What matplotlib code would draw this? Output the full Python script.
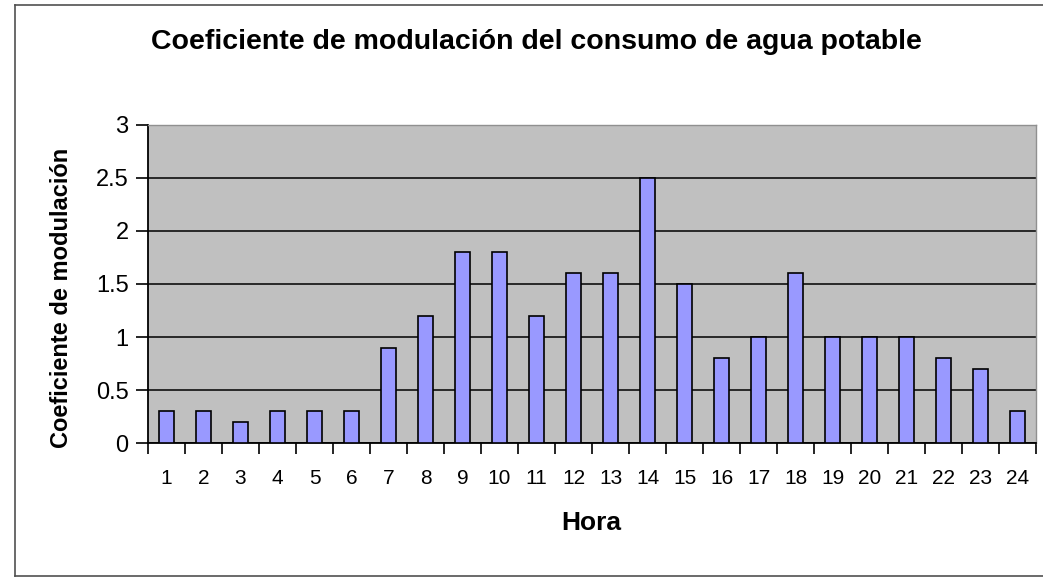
import numpy as np
import matplotlib.pyplot as plt
from matplotlib.lines import Line2D

plt.rcParams['font.family'] = ['Liberation Sans', 'DejaVu Sans']

horas = [str(h) for h in range(1, 25)]
coeficiente = [0.3, 0.3, 0.2, 0.3, 0.3, 0.3, 0.9, 1.2, 1.8, 1.8, 1.2, 1.6,
               1.6, 2.5, 1.5, 0.8, 1.0, 1.6, 1.0, 1.0, 1.0, 0.8, 0.7, 0.3]
y_ticks = [0, 0.5, 1, 1.5, 2, 2.5, 3]
y_labels = ['0', '0.5', '1', '1.5', '2', '2.5', '3']

fig = plt.figure(figsize=(10.43, 5.77), dpi=100)
ax = fig.add_axes([0.1419, 0.2322, 0.8514, 0.5512])
ax.set_facecolor('#C0C0C0')

x = np.arange(len(horas))
ax.bar(x, coeficiente, width=0.43, color='#9999FF', edgecolor='black',
       linewidth=1.2, zorder=3)

ax.set_xlim(-0.5, len(horas) - 0.5)
ax.set_ylim(0, 3)
ax.set_yticks(y_ticks)
ax.set_yticklabels(y_labels, fontsize=17)
ax.yaxis.grid(True, color='black', linewidth=1.1, zorder=1)
ax.set_axisbelow(True)

# ticks at category boundaries, labels at centres
ax.set_xticks(np.arange(len(horas) + 1) - 0.5)
ax.set_xticklabels([])
ax.set_xticks(x, minor=True)
ax.set_xticklabels(horas, minor=True, fontsize=15)
ax.tick_params(axis='x', which='major', direction='out', length=8, width=1.2)
ax.tick_params(axis='x', which='minor', length=0, pad=19)
ax.tick_params(axis='y', direction='out', length=9, width=1.2, pad=5)

for s in ['left', 'bottom']:
    ax.spines[s].set_color('black')
    ax.spines[s].set_linewidth(1.3)
for s in ['top', 'right']:
    ax.spines[s].set_color('#909090')
    ax.spines[s].set_linewidth(1.0)

fig.text(0.514, 0.927, 'Coeficiente de modulación del consumo de agua potable',
         ha='center', va='center', fontsize=20.5, fontweight='bold')
fig.text(0.567, 1 - 523 / 577, 'Hora', ha='center', va='center',
         fontsize=19, fontweight='bold')
fig.text(0.059, 1 - 298 / 577, 'Coeficiente de modulación', rotation=90,
         ha='center', va='center', fontsize=17, fontweight='bold')

# outer chart border
border_color = '#505050'
fig.add_artist(Line2D([15 / 1043, 1.0], [1 - 5 / 577, 1 - 5 / 577],
                      color=border_color, linewidth=1.2))
fig.add_artist(Line2D([15 / 1043, 15 / 1043], [1 - 5 / 577, 1 - 576 / 577],
                      color=border_color, linewidth=1.2))
fig.add_artist(Line2D([15 / 1043, 1.0], [1 - 576 / 577, 1 - 576 / 577],
                      color=border_color, linewidth=1.2))

fig.savefig('out.png', dpi=100)
